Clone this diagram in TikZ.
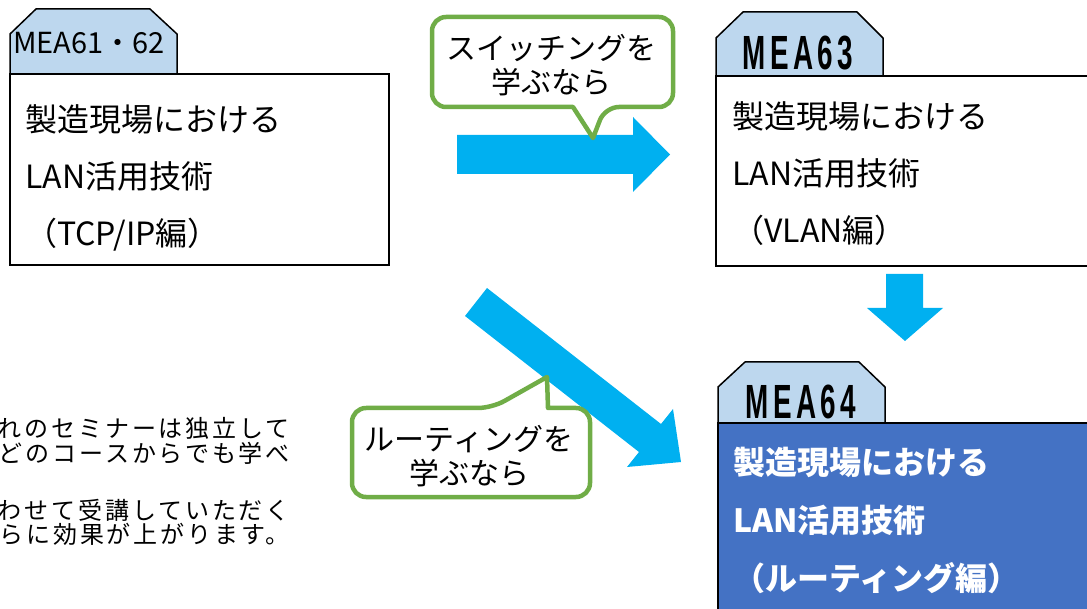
\documentclass[tikz,border=0pt]{standalone}
\usepackage{fontspec}
\setmainfont{Noto Sans CJK JP}
\newfontfamily\tabfont{Liberation Sans}[FakeStretch=0.58, LetterSpace=9]
\newfontfamily\notefont{Noto Sans CJK JP}[LetterSpace=12]
\definecolor{tabblue}{HTML}{BDD7EE}
\definecolor{arrowblue}{HTML}{00B0F0}
\definecolor{callgreen}{HTML}{70AD47}
\definecolor{boxblue}{HTML}{4472C4}
\tikzset{
	tab/.style={draw=black, line width=1.5pt, fill=tabblue, line join=round},
	course/.style={draw=black, line width=2pt},
	bubble/.style={draw=callgreen, line width=4.5pt, fill=white, line join=round},
	fatarrow/.style={fill=arrowblue},
	boxtext/.style={anchor=base west, inner sep=0pt, font=\fontsize{32}{38}\selectfont},
	routetext/.style={boxtext, text=white, font=\fontsize{32}{38}\selectfont\bfseries},
	bubbletext/.style={inner sep=0pt, align=center, font=\fontsize{30}{34}\selectfont},
	notetext/.style={anchor=base east, inner sep=0pt, font=\notefont\fontsize{24}{26}\selectfont},
	tablabel/.style={anchor=base, inner sep=0pt, font=\tabfont\bfseries\fontsize{48}{50}\selectfont}
}
\begin{document}
\begin{tikzpicture}[x=1pt, y=-1pt]
	\path[use as bounding box, clip] (0,0) rectangle (1087,609);
	\begin{scope}
		\draw[tab] (10,74) -- (10,34) -- (36,9) -- (150,9) -- (177,34) -- (177,74);
		\node[anchor=base west, inner sep=0pt, font=\fontsize{29}{30}\selectfont] (tab12) at (13,54) {MEA61・62};
		\draw[course, fill=white] (10,74) rectangle (389,265);
		\foreach \txt [count=\i] in {製造現場における, LAN活用技術, （TCP/IP編）}
			\node[boxtext] (tcp\i) at (25, {132+57*(\i-1)}) {\txt};
	\end{scope}
	\begin{scope}
		\draw[tab] (716,76) -- (716,38) -- (743,12) -- (857,12) -- (883,38) -- (883,76);
		\node[tablabel] (tab63) at (798,70) {MEA63};
		\draw[course, fill=white] (716,76) rectangle (1100,266);
		\foreach \txt [count=\i] in {製造現場における, LAN活用技術, （VLAN編）}
			\node[boxtext] (vlan\i) at (732, {129+57*(\i-1)}) {\txt};
	\end{scope}
	\begin{scope}
		\draw[tab] (718,423) -- (718,387) -- (745,362) -- (859,362) -- (885,387) -- (885,423);
		\node[tablabel] (tab64) at (801,419) {MEA64};
		\draw[course, fill=boxblue] (718,423) rectangle (1100,620);
		\foreach \txt [count=\i] in {製造現場における, LAN活用技術, （ルーティング編）}
			\node[routetext] (route\i) at (733, {474+58*(\i-1)}) {\txt};
	\end{scope}
	\fill[fatarrow] (457,135) -- (633,135) -- (633,117) -- (670,154.5) -- (633,192) -- (633,174) -- (457,174) -- cycle;
	\fill[fatarrow] (886,274) -- (923,274) -- (923,308) -- (943,308) -- (905,341) -- (867,308) -- (886,308) -- cycle;
	\fill[fatarrow] (487,288) -- (661,424) -- (673,409) -- (681,462) -- (627,467) -- (639,452) -- (465,316) -- cycle;
	\draw[bubble, rounded corners=14pt] (432,62) |- (673,17) |- (605,107) [sharp corners] -- (593,138) -- (573,107) [rounded corners=14pt] -| (432,62) -- cycle;
	\node[bubbletext] (switchnote) at (551,65) {スイッチングを\\学ぶなら};
	\draw[bubble, rounded corners=14pt] (352,452) |- (492,408) [sharp corners] -- (547,377) -- (548,408) [rounded corners=14pt] -| (590,452) |- (352,497) -- cycle;
	\node[bubbletext] (routenote) at (469,456) {ルーティングを\\学ぶなら};
	\node[notetext] (note1) at (290,437) {れのセミナーは独立して};
	\node[notetext] (note2) at (290,462) {どのコースからでも学べ};
	\node[notetext] (note3) at (290,519) {わせて受講していただく};
	\node[notetext] (note4) at (290,543) {らに効果が上がります。};
\end{tikzpicture}
\end{document}
